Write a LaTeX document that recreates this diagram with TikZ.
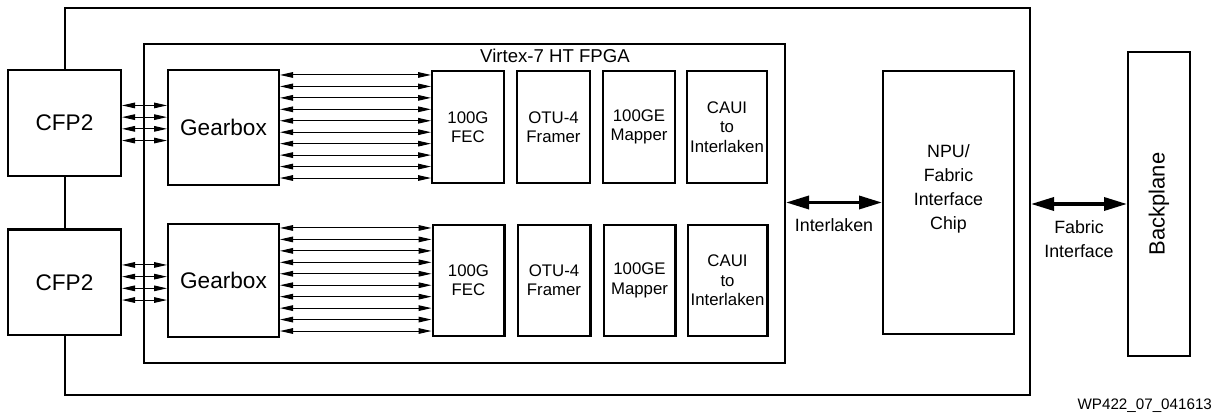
\documentclass[tikz,border=0pt]{standalone}
\usepackage{fontspec}
\setmainfont{Liberation Sans}
\usetikzlibrary{positioning,arrows.meta,calc}

\begin{document}
\begin{tikzpicture}[x=0.5pt,y=-0.5pt,node distance=5.5pt,
	box/.style={draw,line width=1.1pt,fill=white,inner sep=1pt,align=center},
	blk/.style={box,minimum width=35.9pt,minimum height=55.9pt,font=\fontsize{8.4}{9.7}\selectfont},
	big/.style={font=\fontsize{11.3}{13}\selectfont},
	txt/.style={align=center,font=\fontsize{8.9}{12}\selectfont},
	lane/.style={line width=0.5pt,{Triangle[length=6.5pt,width=2.8pt]}-{Triangle[length=6.5pt,width=2.8pt]}},
	bus/.style={line width=1.7pt,{Triangle[length=11.5pt,width=6.5pt]}-{Triangle[length=11.5pt,width=6.5pt]}}]
		
		\useasboundingbox (0,0) rectangle (1220,415);
		
		\node[draw,line width=1.1pt,minimum width=482.4pt,minimum height=193.4pt] (board)
		at (547.5,201.5) {};
		
		\node[draw,line width=1.1pt,minimum width=320.4pt,minimum height=159.4pt] (fpga)
		at (464.5,203.5) {};
		
		\node[font=\fontsize{9.3}{11}\selectfont] (fpganame)
		at (555,56)
		{Virtex-7 HT FPGA};
		
		\node[box,big,minimum width=56.4pt,minimum height=52.9pt] (cfpA)
		at (64.5,123)
		{CFP2};
		
		\node[box,big,minimum width=56.4pt,minimum height=52.9pt] (cfpB)
		at (64.5,282.5)
		{CFP2};
		
		\node[box,big,minimum width=55.4pt,minimum height=57.4pt] (gbA)
		at (223.5,127.5)
		{Gearbox};
		
		\node[box,big,minimum width=55.4pt,minimum height=56.4pt] (gbB)
		at (223.5,280.5)
		{Gearbox};
		
		\node[blk] (fecA)
		at (468,127)
		{100G\\FEC};
		
		\node[blk,minimum width=36.4pt] (frmA)
		[right=of fecA]
		{OTU-4\\Framer};
		
		\node[blk] (mapA)
		[right=of frmA]
		{100GE\\Mapper};
		
		\node[blk,minimum width=39.9pt] (cauiA)
		[right=5pt of mapA]
		{CAUI\\to\\Interlaken};
		
		\node[blk,minimum height=55.4pt] (fecB)
		at (468.5,280.5)
		{100G\\FEC};
		
		\node[blk,minimum width=36.4pt,minimum height=55.4pt] (frmB)
		[right=of fecB]
		{OTU-4\\Framer};
		
		\node[blk,minimum height=55.4pt] (mapB)
		[right=of frmB]
		{100GE\\Mapper};
		
		\node[blk,minimum width=39.9pt,minimum height=55.4pt] (cauiB)
		[right=5pt of mapB]
		{CAUI\\to\\Interlaken};
		
		\node[box,minimum width=65.4pt,minimum height=131.4pt,
		label={[txt,yshift=7pt]center:NPU/\\Fabric\\Interface\\Chip}] (npu)
		at (948.5,202.5) {};
		
		\node[box,rotate=90,minimum width=151.9pt,minimum height=30.9pt,
		font=\fontsize{11}{13}\selectfont] (bp)
		at (1159,204)
		{Backplane};
		
		\node[font=\fontsize{7.6}{9}\selectfont,anchor=east] (fig)
		at (1219,406)
		{WP422\_07\_041613};
		
		\foreach \r in {A,B} {
			\foreach \k in {-1.5,-0.5,0.5,1.5}
				\draw[lane] ($(cfp\r.east)+(0,\k*11.7)$) -- ($(gb\r.west|-cfp\r.east)+(0,\k*11.7)$);
			\foreach \k in {-4.5,-3.5,...,4.5}
				\draw[lane] ($(gb\r.east)+(0,\k*11.45-1)$) -- ($(fec\r.west|-gb\r.east)+(0,\k*11.45-1)$);
		}
		
		\draw[bus] (fpga.east|-npu.west) -- (npu.west)
		node[midway,below=4pt,txt] {Interlaken};
		\draw[bus] (board.east|-bp.north) -- (bp.north)
		node[midway,below=4pt,txt] {Fabric\\Interface};
		
	\end{tikzpicture}
\end{document}
